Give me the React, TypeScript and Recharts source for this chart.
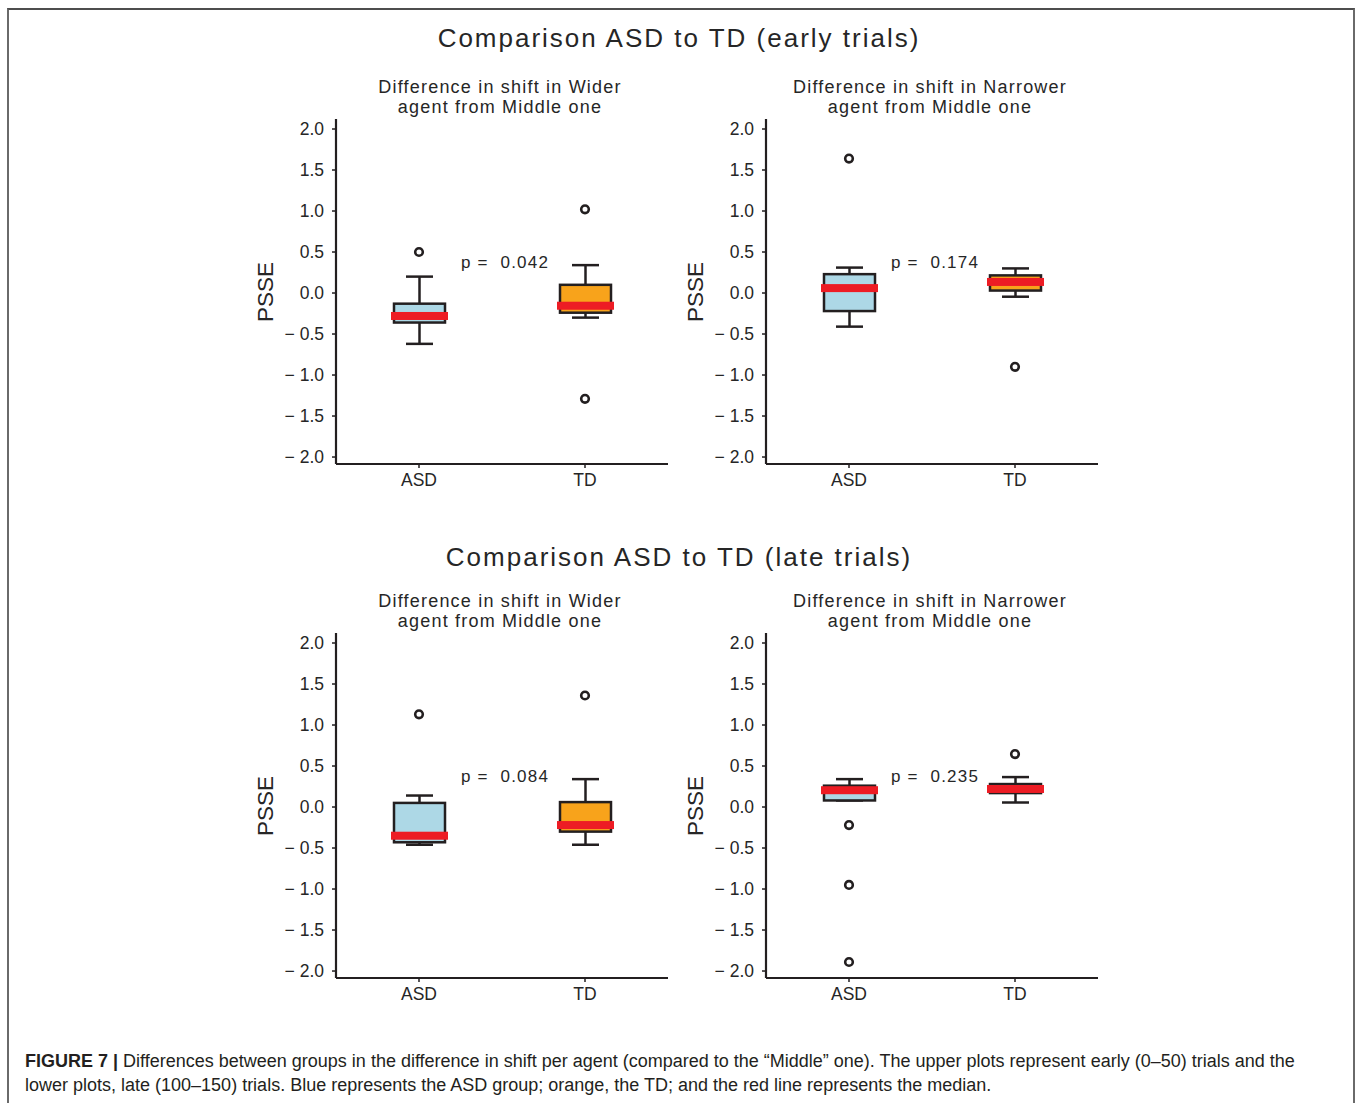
import React from 'react';
import { ComposedChart, Bar, Scatter, XAxis, YAxis } from 'recharts';

// ---------- data ----------
const GROUPS = ['ASD', 'TD'];
const Y_TICKS = [-2, -1.5, -1, -0.5, 0, 0.5, 1, 1.5, 2];
const Y_DOMAIN: [number, number] = [-2.085, 2.122];

// [lower whisker, Q1, median, Q3, upper whisker] for ASD, TD
const earlyWiderStats = [
  [-0.62, -0.36, -0.28, -0.13, 0.2],
  [-0.3, -0.24, -0.155, 0.1, 0.34],
];
const earlyWiderOutliers = [[0.5], [1.02, -1.29]];
const earlyWiderP = '0.042';

const earlyNarrowerStats = [
  [-0.41, -0.22, 0.06, 0.23, 0.31],
  [-0.045, 0.03, 0.135, 0.215, 0.3],
];
const earlyNarrowerOutliers = [[1.64], [-0.9]];
const earlyNarrowerP = '0.174';

const lateWiderStats = [
  [-0.46, -0.43, -0.35, 0.05, 0.14],
  [-0.46, -0.3, -0.22, 0.06, 0.34],
];
const lateWiderOutliers = [[1.13], [1.36]];
const lateWiderP = '0.084';

const lateNarrowerStats = [
  [0.08, 0.08, 0.205, 0.26, 0.34],
  [0.055, 0.17, 0.22, 0.28, 0.365],
];
const lateNarrowerOutliers = [[-0.22, -0.95, -1.89], [0.645]];
const lateNarrowerP = '0.235';

const P_LABEL_VALUE = 0.37;

const SUBTITLE_WIDER = ['Difference in shift in Wider', 'agent from Middle one'];
const SUBTITLE_NARROWER = ['Difference in shift in Narrower', 'agent from Middle one'];
const TITLE_EARLY = 'Comparison ASD to TD (early trials)';
const TITLE_LATE = 'Comparison ASD to TD (late trials)';
const Y_LABEL = 'PSSE';

// ---------- style ----------
const FILLS = ['#add8e6', '#f8a31b'];
const MEDIAN_COLOR = '#ed1c24';
const INK = '#231f20';
const TEXT = '#262626';
const FONT = "'Liberation Sans', Arial, Helvetica, sans-serif";

const CH_W = 450;
const CH_H = 400;
const M_TOP = 9;
const M_RIGHT = 12;
const M_BOTTOM = 16;
const Y_AXIS_W = 106;
const X_AXIS_H = 30;
const PLOT_W = CH_W - Y_AXIS_W - M_RIGHT;
const PLOT_H = CH_H - M_TOP - M_BOTTOM - X_AXIS_H;

function buildData(stats: number[][], outliers: number[][]) {
  return GROUPS.map((g, i) => {
    const [lo, q1, med, q3, hi] = stats[i];
    const row: any = { group: g, box: [q1, q3], lo, q1, med, q3, hi, fill: FILLS[i] };
    outliers[i].forEach((v, k) => {
      row['o' + k] = v;
    });
    return row;
  });
}

const BoxShape = (props: any) => {
  const { x, y, width, height, payload } = props;
  if (x == null || y == null || !payload) return <g />;
  const { lo, q1, med, q3, hi, fill } = payload;
  const k = q3 !== q1 ? height / (q3 - q1) : 0;
  const py = (v: number) => y + (q3 - v) * k;
  const cx = x + width / 2;
  const cap = 13.5;
  const sw = 2.5;
  return (
    <g>
      <line x1={cx} x2={cx} y1={py(hi)} y2={y} stroke={INK} strokeWidth={sw} />
      <line x1={cx} x2={cx} y1={y + height} y2={py(lo)} stroke={INK} strokeWidth={sw} />
      <line x1={cx - cap} x2={cx + cap} y1={py(hi)} y2={py(hi)} stroke={INK} strokeWidth={sw} />
      <line x1={cx - cap} x2={cx + cap} y1={py(lo)} y2={py(lo)} stroke={INK} strokeWidth={sw} />
      <rect x={x} y={y} width={width} height={height} fill={fill} stroke={INK} strokeWidth={sw} />
      <rect x={x - 3} y={py(med) - 4} width={width + 6} height={8} fill={MEDIAN_COLOR} />
    </g>
  );
};

const outlierShape = (key: string) => (props: any) => {
  const { cx, cy, payload } = props;
  if (!payload || payload[key] == null || !isFinite(cx) || !isFinite(cy)) return <g />;
  return <circle cx={cx} cy={cy} r={3.8} fill="#ffffff" stroke={INK} strokeWidth={2.6} />;
};

const fmtTick = (v: number) => (v < 0 ? '\u2212 ' + Math.abs(v).toFixed(1) : v.toFixed(1));

function Panel({ left, top, stats, outliers, p }: any) {
  const data = buildData(stats, outliers);
  const plotLeft = left + Y_AXIS_W;
  const plotTop = top + M_TOP;
  const pY = plotTop + ((Y_DOMAIN[1] - P_LABEL_VALUE) / (Y_DOMAIN[1] - Y_DOMAIN[0])) * PLOT_H;
  const pX = plotLeft + PLOT_W / 2 + 3;
  return (
    <>
      <div style={{ position: 'absolute', left, top }}>
        <ComposedChart
          width={CH_W}
          height={CH_H}
          data={data}
          margin={{ top: M_TOP, right: M_RIGHT, bottom: M_BOTTOM, left: 0 }}
        >
          <XAxis
            dataKey="group"
            type="category"
            height={X_AXIS_H}
            interval={0}
            tickSize={4}
            tickMargin={6}
            axisLine={{ stroke: INK, strokeWidth: 2.2 }}
            tickLine={{ stroke: INK, strokeWidth: 1.5 }}
            tick={{ fill: TEXT, fontSize: 17.5, fontFamily: FONT }}
          />
          <YAxis
            type="number"
            domain={Y_DOMAIN}
            ticks={Y_TICKS}
            allowDataOverflow
            interval={0}
            width={Y_AXIS_W}
            tickSize={4}
            tickMargin={8}
            tickFormatter={fmtTick}
            axisLine={{ stroke: INK, strokeWidth: 2.2 }}
            tickLine={{ stroke: INK, strokeWidth: 1.5 }}
            tick={{ fill: TEXT, fontSize: 17.5, fontFamily: FONT }}
          />
          <Bar dataKey="box" barSize={51} shape={BoxShape} isAnimationActive={false} />
          {['o0', 'o1', 'o2'].map((k) => (
            <Scatter key={k} dataKey={k} shape={outlierShape(k)} isAnimationActive={false} />
          ))}
        </ComposedChart>
      </div>
      <div
        style={{
          position: 'absolute',
          left: left + 35.5,
          top: plotTop + PLOT_H / 2,
          transform: 'translate(-50%, -50%) rotate(-90deg)',
          fontFamily: FONT,
          fontSize: 22.5,
          color: TEXT,
          whiteSpace: 'nowrap',
          lineHeight: '24px',
        }}
      >
        {Y_LABEL}
      </div>
      <div
        style={{
          position: 'absolute',
          left: pX,
          top: pY,
          transform: 'translate(-50%, -50%)',
          fontFamily: FONT,
          fontSize: 17,
          letterSpacing: 1.2,
          color: TEXT,
          whiteSpace: 'pre',
          lineHeight: '20px',
        }}
      >
        {'p =  ' + p}
      </div>
    </>
  );
}

function Subtitle({ cx, top, lines }: any) {
  return (
    <>
      {lines.map((t: string, i: number) => (
        <div
          key={i}
          style={{
            position: 'absolute',
            left: cx,
            top: top + i * 20,
            transform: 'translateX(-50%)',
            fontFamily: FONT,
            fontSize: 18,
            letterSpacing: 1.2,
            color: TEXT,
            whiteSpace: 'nowrap',
            lineHeight: '20px',
          }}
        >
          {t}
        </div>
      ))}
    </>
  );
}

function Title({ top, text }: any) {
  return (
    <div
      style={{
        position: 'absolute',
        left: 679,
        top,
        transform: 'translateX(-50%)',
        fontFamily: FONT,
        fontSize: 26,
        letterSpacing: 2,
        color: TEXT,
        whiteSpace: 'nowrap',
        lineHeight: '30px',
      }}
    >
      {text}
    </div>
  );
}

export default function App() {
  return (
    <div
      style={{
        position: 'absolute',
        left: 0,
        top: 0,
        width: 1358,
        height: 1103,
        background: '#ffffff',
        overflow: 'hidden',
      }}
    >
      <div
        style={{
          position: 'absolute',
          left: 7,
          top: 8,
          width: 1344,
          height: 1120,
          borderTop: '2px solid #4d4d4d',
          borderLeft: '2px solid #6a6a6a',
          borderRight: '2px solid #6a6a6a',
        }}
      />
      <Title top={23} text={TITLE_EARLY} />
      <Title top={542} text={TITLE_LATE} />

      <Subtitle cx={500} top={77} lines={SUBTITLE_WIDER} />
      <Subtitle cx={930} top={77} lines={SUBTITLE_NARROWER} />
      <Subtitle cx={500} top={591} lines={SUBTITLE_WIDER} />
      <Subtitle cx={930} top={591} lines={SUBTITLE_NARROWER} />

      <Panel left={230} top={110} stats={earlyWiderStats} outliers={earlyWiderOutliers} p={earlyWiderP} />
      <Panel left={660} top={110} stats={earlyNarrowerStats} outliers={earlyNarrowerOutliers} p={earlyNarrowerP} />
      <Panel left={230} top={624} stats={lateWiderStats} outliers={lateWiderOutliers} p={lateWiderP} />
      <Panel left={660} top={624} stats={lateNarrowerStats} outliers={lateNarrowerOutliers} p={lateNarrowerP} />

      <div
        style={{
          position: 'absolute',
          left: 25,
          top: 1049,
          fontFamily: FONT,
          fontSize: 18,
          lineHeight: '24px',
          color: '#231f20',
          whiteSpace: 'nowrap',
        }}
      >
        <b>FIGURE 7 |</b> Differences between groups in the difference in shift per agent (compared to the
        “Middle” one). The upper plots represent early (0–50) trials and the
        <br />
        lower plots, late (100–150) trials. Blue represents the ASD group; orange, the TD; and the red line
        represents the median.
      </div>
    </div>
  );
}
